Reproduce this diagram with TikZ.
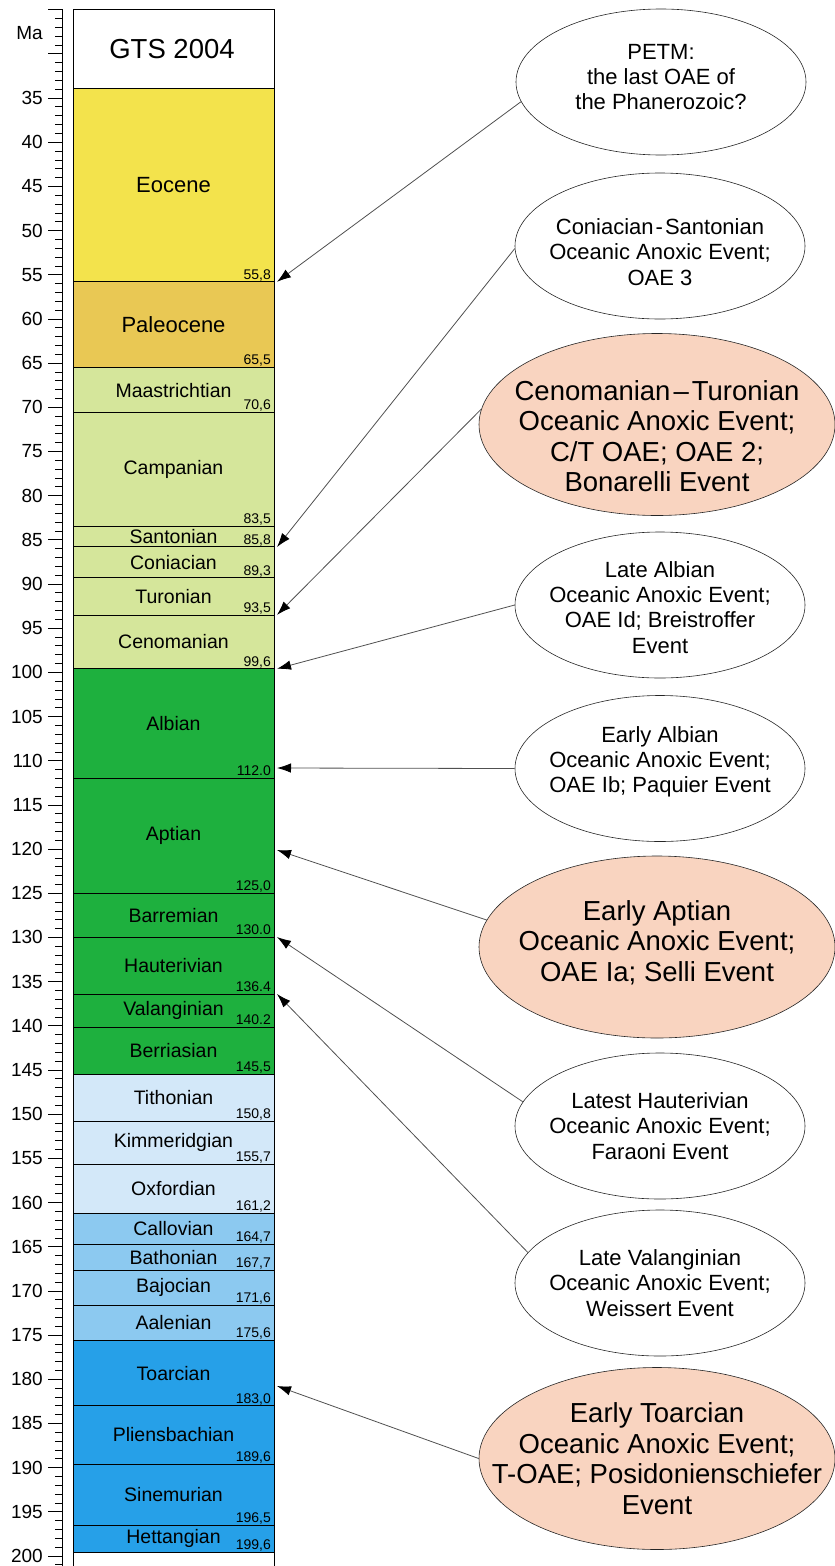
\documentclass[tikz,border=0pt]{standalone}
\usepackage{fontspec}
\setmainfont{Liberation Sans}
\usetikzlibrary{shapes.geometric,arrows.meta}
\definecolor{cEoc}{RGB}{243,227,76}
\definecolor{cPal}{RGB}{233,200,84}
\definecolor{cLK}{RGB}{213,230,155}
\definecolor{cEK}{RGB}{30,176,62}
\definecolor{cLJ}{RGB}{211,232,249}
\definecolor{cMJ}{RGB}{140,201,240}
\definecolor{cEJ}{RGB}{38,160,232}
\definecolor{cPink}{RGB}{249,212,192}
\definecolor{cLine}{RGB}{80,80,80}
\tikzset{
  oaeW/.style={ellipse, draw=black!85, line width=0.6pt, fill=white, minimum width=290pt, minimum height=146pt, inner sep=0pt},
  oaeP/.style={ellipse, draw=black!85, line width=0.6pt, fill=cPink, minimum width=356pt, minimum height=182pt, inner sep=0pt},
  txtW/.style={align=center, font=\fontsize{22}{25.2}\selectfont, inner sep=0pt},
  txtP/.style={align=center, font=\fontsize{27.5}{30.5}\selectfont, inner sep=0pt},
  arr/.style={draw=cLine, line width=0.8pt, -{Latex[length=14pt,width=9.5pt,color=black]}},
  ticklab/.style={anchor=east, font=\fontsize{19}{19}\selectfont, inner sep=0pt},
  agelab/.style={anchor=base east, font=\fontsize{14}{14}\selectfont, inner sep=0pt},
}
\begin{document}
\begin{tikzpicture}[x=1pt,y=-1pt]
\useasboundingbox (0,0) rectangle (835,1566);
% column frame
\draw[line width=0.8pt] (73,9) -- (73,1566);
\draw[line width=0.8pt] (274,9) -- (274,1566);
\draw[line width=0.8pt] (73,9) rectangle (274,88.3);
\node[font=\fontsize{27.5}{27.5}\selectfont, inner sep=0pt] (gts) at (172,49) {GTS 2004};
% stages
\foreach \a/\b/\n/\c/\s/\l in {
 33.9/55.8/Eocene/cEoc/22/{55,8},
 55.8/65.5/Paleocene/cPal/22/{65,5},
 65.5/70.6/Maastrichtian/cLK/19.5/{70,6},
 70.6/83.5/Campanian/cLK/19.5/{83,5},
 83.5/85.8/Santonian/cLK/19.5/{85,8},
 85.8/89.3/Coniacian/cLK/19.5/{89,3},
 89.3/93.5/Turonian/cLK/19.5/{93,5},
 93.5/99.6/Cenomanian/cLK/19.5/{99,6},
 99.6/112.0/Albian/cEK/19.5/{112.0},
 112.0/125.0/Aptian/cEK/19.5/{125,0},
 125.0/130.0/Barremian/cEK/19.5/{130.0},
 130.0/136.4/Hauterivian/cEK/19.5/{136.4},
 136.4/140.2/Valanginian/cEK/19.5/{140.2},
 140.2/145.5/Berriasian/cEK/19.5/{145,5},
 145.5/150.8/Tithonian/cLJ/19.5/{150,8},
 150.8/155.7/Kimmeridgian/cLJ/19.5/{155,7},
 155.7/161.2/Oxfordian/cLJ/19.5/{161,2},
 161.2/164.7/Callovian/cMJ/19.5/{164,7},
 164.7/167.7/Bathonian/cMJ/19.5/{167,7},
 167.7/171.6/Bajocian/cMJ/19.5/{171,6},
 171.6/175.6/Aalenian/cMJ/19.5/{175,6},
 175.6/183.0/Toarcian/cEJ/19.5/{183,0},
 183.0/189.6/Pliensbachian/cEJ/19.5/{189,6},
 189.6/196.5/Sinemurian/cEJ/19.5/{196,5},
 196.5/199.6/Hettangian/cEJ/19.5/{199,6}}{
  \pgfmathsetmacro\ya{98+(\a-35)*8.836}
  \pgfmathsetmacro\yb{98+(\b-35)*8.836}
  \pgfmathsetmacro\ym{(\ya+\yb)/2}
  \filldraw[fill=\c, draw=black, line width=0.8pt] (73,\ya) rectangle (274,\yb);
  \node[font=\fontsize{\s}{\s}\selectfont, inner sep=0pt] (st-\n) at (173.5,\ym) {\n};
  \node[agelab] (ag-\n) at (271,\yb-2.6) {\l};
}
% axis
\draw[line width=0.8pt] (62,9) -- (62,1566);
\foreach \m in {25,...,201}{
  \pgfmathsetmacro\yy{98+(\m-35)*8.836}
  \draw[line width=0.7pt] (55,\yy) -- (62,\yy);
}
\foreach \m in {25,30,...,200}{
  \pgfmathsetmacro\yy{98+(\m-35)*8.836}
  \draw[line width=0.7pt] (48,\yy) -- (62,\yy);
}
\foreach \m in {35,40,...,200}{
  \pgfmathsetmacro\yy{98+(\m-35)*8.836}
  \node[ticklab] (tl-\m) at (43,\yy) {\m};
}
\node[ticklab] (ma) at (43,33) {Ma};
% arrow targets
\coordinate (t1) at (277,281.8);
\coordinate (t2) at (277,547.0);
\coordinate (t3) at (277,614.9);
\coordinate (t4) at (277,668.8);
\coordinate (t5) at (277,768);
\coordinate (t6) at (277,850);
\coordinate (t7) at (277,937);
\coordinate (t8) at (277,994);
\coordinate (t9) at (277,1386);
% ellipses
\node[oaeW] (e1) at (661,82) {};
\node[txtW] (x1) at (661,77) {PETM:\\the last OAE of\\the Phanerozoic?};
\node[oaeW] (e2) at (660,246) {};
\node[txtW] (x2) at (660,252) {Coniacian\kern2pt-\kern2pt Santonian\\Oceanic Anoxic Event;\\OAE 3};
\node[oaeP] (e3) at (657,424.5) {};
\node[txtP] (x3) at (657,436) {Cenomanian\kern3pt--\kern3pt Turonian\\Oceanic Anoxic Event;\\C/T OAE; OAE 2;\\Bonarelli Event};
\node[oaeW] (e4) at (660,605) {};
\node[txtW] (x4) at (660,607.5) {Late Albian\\Oceanic Anoxic Event;\\OAE Id; Breistroffer\\Event};
\node[oaeW] (e5) at (660,768.5) {};
\node[txtW] (x5) at (660,762) {Early Albian\\Oceanic Anoxic Event;\\OAE Ib; Paquier Event};
\node[oaeP] (e6) at (657,947) {};
\node[txtP] (x6) at (657,942.5) {Early Aptian\\Oceanic Anoxic Event;\\OAE Ia; Selli Event};
\node[oaeW] (e7) at (660,1126) {};
\node[txtW] (x7) at (660,1126) {Latest Hauterivian\\Oceanic Anoxic Event;\\Faraoni Event};
\node[oaeW] (e8) at (660,1283) {};
\node[txtW] (x8) at (660,1283) {Late Valanginian\\Oceanic Anoxic Event;\\Weissert Event};
\node[oaeP] (e9) at (657,1458.5) {};
\node[txtP] (x9) at (657,1458.5) {Early Toarcian\\Oceanic Anoxic Event;\\T-OAE; Posidonienschiefer\\Event};
% connectors
\draw[arr] (e1.188.5) -- (t1);
\draw[arr] (e2.181) -- (t2);
\draw[arr] (e3.175.8) -- (t3);
\draw[arr] (e4.180.4) -- (t4);
\draw[arr] (e5.180) -- (t5);
\draw[arr] (e6.171.7) -- (t6);
\draw[arr] (e7.170.1) -- (t7);
\draw[arr] (e8.167.5) -- (t8);
\draw[arr] (e9.180) -- (t9);
\end{tikzpicture}
\end{document}
